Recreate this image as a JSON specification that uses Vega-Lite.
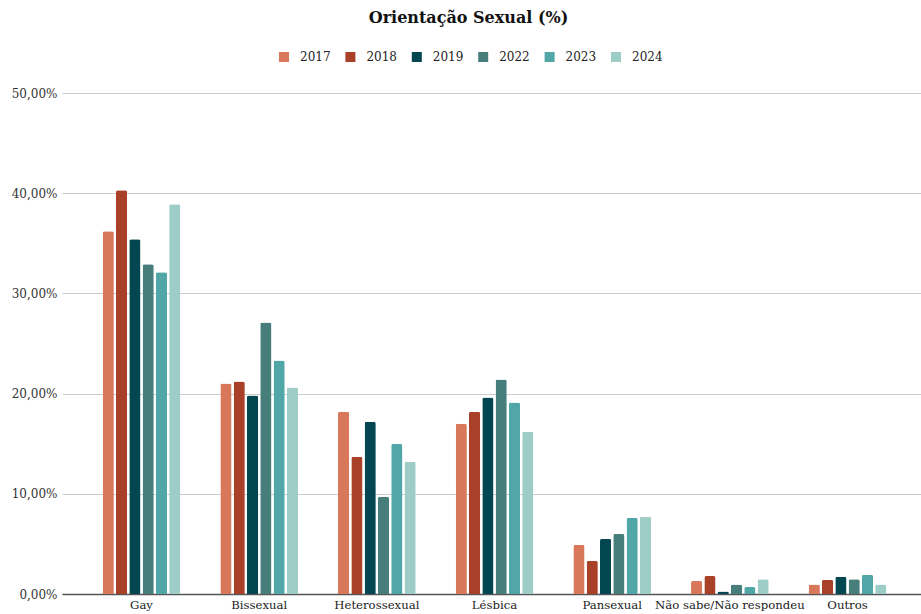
{
  "$schema": "https://vega.github.io/schema/vega-lite/v6.json",
  "width": 859,
  "height": 501,
  "autosize": {"type": "none"},
  "padding": {"left": 62, "top": 93, "right": 0, "bottom": 20},
  "background": "white",
  "title": {
    "text": "Orientação Sexual (%)",
    "font": "DejaVu Serif",
    "fontSize": 16,
    "fontWeight": "bold",
    "color": "#111111",
    "anchor": "middle",
    "dx": -23,
    "offset": 25
  },
  "config": {
    "locale": {"number": {"decimal": ",", "thousands": ".", "grouping": [3], "currency": ["R$", ""]}},
    "view": {"stroke": null},
    "font": "DejaVu Serif"
  },
  "data": {
    "values": [
      {"cat": "Gay", "ano": "2017", "v": 0.362},
      {"cat": "Gay", "ano": "2018", "v": 0.403},
      {"cat": "Gay", "ano": "2019", "v": 0.354},
      {"cat": "Gay", "ano": "2022", "v": 0.329},
      {"cat": "Gay", "ano": "2023", "v": 0.321},
      {"cat": "Gay", "ano": "2024", "v": 0.389},
      {"cat": "Bissexual", "ano": "2017", "v": 0.210},
      {"cat": "Bissexual", "ano": "2018", "v": 0.212},
      {"cat": "Bissexual", "ano": "2019", "v": 0.198},
      {"cat": "Bissexual", "ano": "2022", "v": 0.271},
      {"cat": "Bissexual", "ano": "2023", "v": 0.233},
      {"cat": "Bissexual", "ano": "2024", "v": 0.206},
      {"cat": "Heterossexual", "ano": "2017", "v": 0.182},
      {"cat": "Heterossexual", "ano": "2018", "v": 0.137},
      {"cat": "Heterossexual", "ano": "2019", "v": 0.172},
      {"cat": "Heterossexual", "ano": "2022", "v": 0.097},
      {"cat": "Heterossexual", "ano": "2023", "v": 0.150},
      {"cat": "Heterossexual", "ano": "2024", "v": 0.132},
      {"cat": "Lésbica", "ano": "2017", "v": 0.170},
      {"cat": "Lésbica", "ano": "2018", "v": 0.182},
      {"cat": "Lésbica", "ano": "2019", "v": 0.196},
      {"cat": "Lésbica", "ano": "2022", "v": 0.214},
      {"cat": "Lésbica", "ano": "2023", "v": 0.191},
      {"cat": "Lésbica", "ano": "2024", "v": 0.162},
      {"cat": "Pansexual", "ano": "2017", "v": 0.049},
      {"cat": "Pansexual", "ano": "2018", "v": 0.033},
      {"cat": "Pansexual", "ano": "2019", "v": 0.055},
      {"cat": "Pansexual", "ano": "2022", "v": 0.060},
      {"cat": "Pansexual", "ano": "2023", "v": 0.076},
      {"cat": "Pansexual", "ano": "2024", "v": 0.077},
      {"cat": "Não sabe/Não respondeu", "ano": "2017", "v": 0.013},
      {"cat": "Não sabe/Não respondeu", "ano": "2018", "v": 0.018},
      {"cat": "Não sabe/Não respondeu", "ano": "2019", "v": 0.0025},
      {"cat": "Não sabe/Não respondeu", "ano": "2022", "v": 0.0094},
      {"cat": "Não sabe/Não respondeu", "ano": "2023", "v": 0.007},
      {"cat": "Não sabe/Não respondeu", "ano": "2024", "v": 0.0147},
      {"cat": "Outros", "ano": "2017", "v": 0.0094},
      {"cat": "Outros", "ano": "2018", "v": 0.0143},
      {"cat": "Outros", "ano": "2019", "v": 0.0173},
      {"cat": "Outros", "ano": "2022", "v": 0.0147},
      {"cat": "Outros", "ano": "2023", "v": 0.0193},
      {"cat": "Outros", "ano": "2024", "v": 0.0094}
    ]
  },
  "mark": {"type": "bar", "cornerRadiusTopLeft": 2, "cornerRadiusTopRight": 2},
  "encoding": {
    "x": {
      "field": "cat",
      "type": "nominal",
      "sort": null,
      "scale": {"paddingInner": 0.34, "paddingOuter": 0.32, "align": 0.54},
      "axis": {
        "title": null,
        "labelAngle": 0,
        "ticks": false,
        "domainColor": "#555555",
        "domainWidth": 1.5,
        "labelFont": "DejaVu Serif",
        "labelFontSize": 11.7,
        "labelColor": "#222222",
        "labelPadding": 5
      }
    },
    "xOffset": {"field": "ano", "type": "nominal", "scale": {"paddingInner": 0.16}},
    "y": {
      "field": "v",
      "type": "quantitative",
      "scale": {"domain": [0, 0.5]},
      "axis": {
        "title": null,
        "format": ".2%",
        "values": [0, 0.1, 0.2, 0.3, 0.4, 0.5],
        "domain": false,
        "ticks": false,
        "gridColor": "#cccccc",
        "labelFont": "DejaVu Serif",
        "labelFontSize": 12,
        "labelColor": "#333333",
        "labelPadding": 5
      }
    },
    "color": {
      "field": "ano",
      "type": "nominal",
      "scale": {
        "domain": ["2017", "2018", "2019", "2022", "2023", "2024"],
        "range": ["#D9775B", "#A94028", "#024652", "#477E7C", "#51A7A8", "#9DCDC6"]
      },
      "legend": {
        "title": null,
        "orient": "none",
        "legendX": 216,
        "legendY": -42,
        "direction": "horizontal",
        "symbolType": "square",
        "symbolSize": 100,
        "symbolStrokeWidth": 0,
        "labelOffset": 10,
        "labelFont": "DejaVu Serif",
        "labelFontSize": 12,
        "labelColor": "#222222",
        "columnPadding": 13.4
      }
    }
  }
}
